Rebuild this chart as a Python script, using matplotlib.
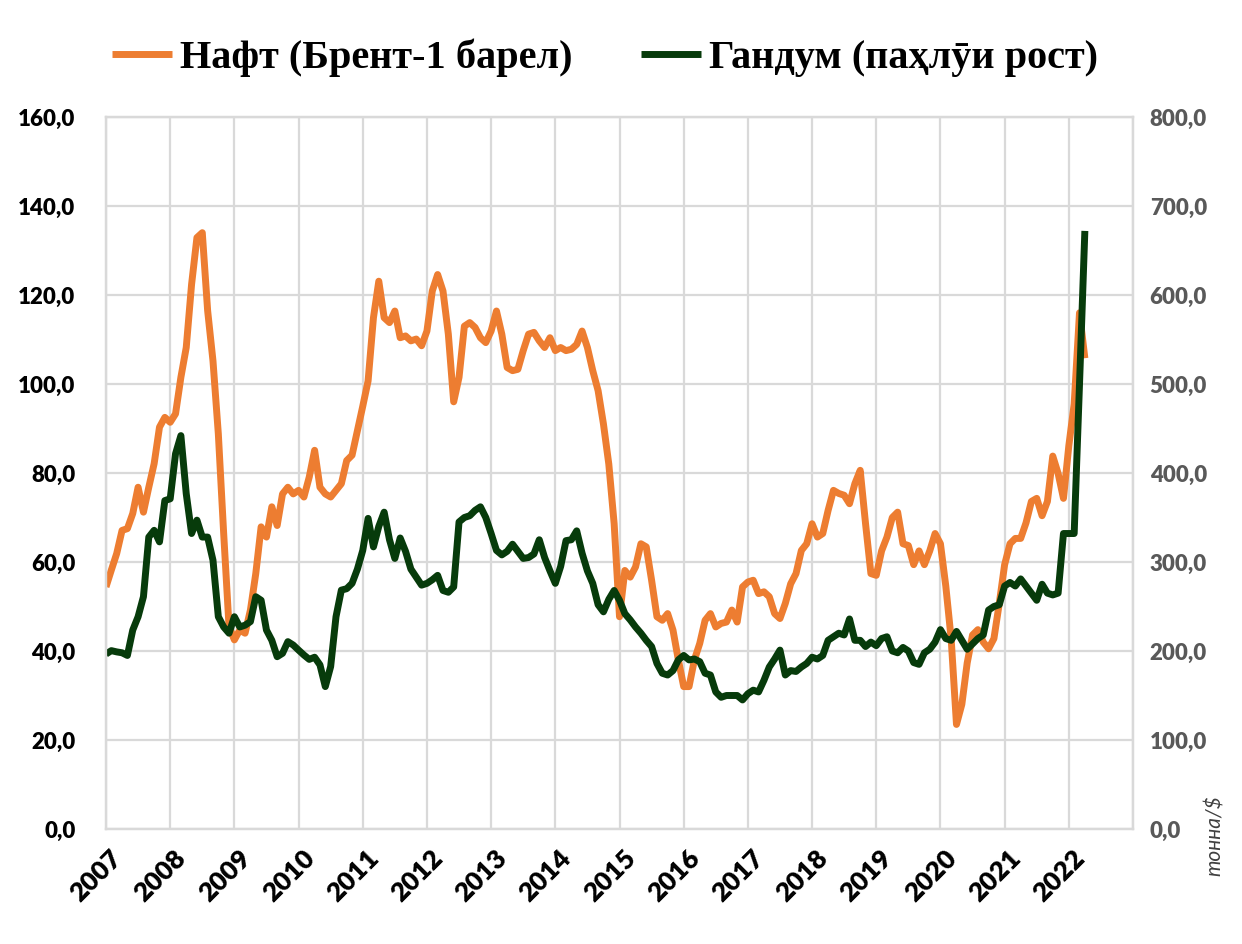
import matplotlib
matplotlib.use('Agg')
import matplotlib.pyplot as plt
import matplotlib.transforms as mtransforms
import numpy as np

# monthly values, Jan 2007 .. Apr 2022
years = list(range(2007, 2023))

oil_brent = [
    # 2007
    54.4, 58.2, 61.9, 67.1, 67.5, 70.9, 76.8, 71.2, 76.8, 82.1, 90.3, 92.5,
    # 2008
    91.4, 93.3, 101.5, 108.2, 122.4, 132.9, 134.0, 116.5, 105.2, 88.8, 66.4, 45.5,
    # 2009
    42.5, 44.7, 44.0, 49.2, 57.4, 67.9, 65.6, 72.4, 68.2, 75.3, 76.8, 75.3,
    # 2010
    76.1, 74.6, 79.1, 85.1, 76.8, 75.3, 74.6, 76.1, 77.6, 82.8, 84.0, 89.5,
    # 2011
    95.0, 100.7, 114.9, 123.1, 114.9, 113.8, 116.4, 110.4, 110.8, 109.7, 110.1, 108.6,
    # 2012
    111.9, 120.9, 124.6, 120.9, 111.2, 96.0, 101.5, 113.0, 113.8, 112.7, 110.4, 109.3,
    # 2013
    111.9, 116.4, 111.2, 103.7, 103.0, 103.3, 107.5, 111.2, 111.6, 109.7, 108.2, 110.4,
    # 2014
    107.5, 108.2, 107.5, 107.8, 108.9, 111.9, 108.2, 103.0, 98.5, 91.0, 82.0, 68.6,
    # 2015
    47.7, 58.1, 56.6, 58.9, 64.1, 63.4, 55.9, 47.7, 46.9, 48.4, 44.7, 38.0,
    # 2016
    32.0, 32.0, 38.0, 41.7, 46.9, 48.4, 45.4, 46.2, 46.5, 49.2, 46.5, 54.4,
    # 2017
    55.5, 55.9, 52.9, 53.3, 52.2, 48.4, 47.3, 50.7, 55.1, 57.4, 62.6, 64.1,
    # 2018
    68.6, 65.6, 66.4, 71.6, 76.1, 75.4, 75.0, 73.1, 77.6, 80.6, 68.6, 57.4,
    # 2019
    57.0, 62.5, 65.6, 70.0, 71.2, 64.1, 63.7, 59.4, 62.5, 59.4, 62.5, 66.4,
    # 2020
    64.1, 54.6, 42.8, 23.5, 28.0, 37.3, 43.6, 44.8, 42.0, 40.5, 42.8, 50.7,
    # 2021
    59.4, 64.1, 65.3, 65.3, 68.8, 73.6, 74.3, 70.4, 73.6, 83.8, 79.9, 74.3,
    # 2022
    86.1, 95.5, 116.0, 105.8,
]

wheat = [
    # 2007
    196.6, 200.4, 199.0, 198.0, 195.0, 223.5, 238.5, 261.0, 328.0, 335.6, 322.6, 369.0,
    # 2008
    371.0, 421.6, 442.0, 376.8, 332.0, 347.0, 328.0, 328.0, 302.0, 238.5, 227.0, 220.0,
    # 2009
    238.5, 227.0, 229.0, 233.0, 261.0, 257.0, 223.5, 212.0, 193.6, 197.4, 210.5, 206.7,
    # 2010
    201.0, 195.5, 190.6, 193.0, 184.4, 160.0, 182.5, 238.5, 268.4, 270.0, 276.0, 292.0,
    # 2011
    313.0, 349.0, 317.0, 340.0, 356.0, 325.0, 304.0, 327.0, 312.0, 292.0, 283.0, 274.0,
    # 2012
    276.0, 280.0, 285.0, 268.0, 266.0, 272.0, 345.0, 350.0, 352.0, 358.0, 362.0, 350.0,
    # 2013
    332.0, 313.0, 308.0, 312.0, 320.0, 312.0, 304.0, 305.0, 309.0, 325.0, 305.0, 290.0,
    # 2014
    276.0, 295.0, 324.0, 325.0, 335.0, 310.0, 290.0, 276.0, 252.0, 244.0, 258.0, 268.0,
    # 2015
    257.0, 242.0, 235.0, 227.0, 220.0, 212.0, 205.0, 186.0, 175.0, 173.0, 178.0, 190.0,
    # 2016
    195.0, 190.0, 191.0, 188.0, 175.0, 173.0, 154.0, 148.0, 150.0, 150.0, 150.0, 145.0,
    # 2017
    152.0, 156.0, 154.0, 167.0, 182.0, 191.0, 201.0, 173.0, 178.0, 177.0, 182.0, 186.0,
    # 2018
    193.0, 191.0, 195.0, 212.0, 216.0, 220.0, 218.0, 236.0, 212.0, 212.0, 205.0, 210.0,
    # 2019
    206.0, 214.0, 216.0, 200.0, 198.0, 204.0, 200.0, 187.0, 185.0, 198.0, 202.0, 210.0,
    # 2020
    224.0, 214.0, 212.0, 222.0, 212.0, 202.0, 208.0, 214.0, 218.0, 246.0, 250.0, 252.0,
    # 2021
    273.0, 277.0, 273.0, 281.0, 273.0, 265.0, 257.0, 275.0, 265.0, 263.0, 265.0, 332.0,
    # 2022
    332.0, 332.0, 500.0, 672.0,
]

oil_label = "Нафт (Брент-1 барел)"
wheat_label = "Гандум (паҳлӯи рост)"
unit_label = "тонна/$"

ORANGE = "#ED7D31"
GREEN = "#073B0B"
GRID = "#D9D9D9"


def main():
    plt.rcParams['font.family'] = ['Lato', 'DejaVu Sans']

    fig = plt.figure(figsize=(12.42, 9.44), dpi=100)
    ax = fig.add_axes([106 / 1242, 1 - 829 / 944, (1133 - 106) / 1242, (829 - 117) / 944])
    ax2 = ax.twinx()

    months = np.arange(len(oil_brent))
    l1, = ax.plot(months, oil_brent, color=ORANGE, lw=5.0, solid_capstyle='butt',
                  solid_joinstyle='round')
    months_w = np.arange(len(wheat))
    l2, = ax2.plot(months_w, wheat, color=GREEN, lw=5.0, solid_capstyle='butt',
                   solid_joinstyle='round')

    ax.set_xlim(0, 192)
    ax.set_ylim(0, 160)
    ax2.set_ylim(0, 800)
    ax.set_yticks(np.arange(0, 161, 20))
    ax2.set_yticks(np.arange(0, 801, 100))
    ax.set_yticklabels([f"{v:.1f}".replace('.', ',') for v in np.arange(0, 161, 20)])
    ax2.set_yticklabels([f"{v:.1f}".replace('.', ',') for v in np.arange(0, 801, 100)])

    ax.set_xticks([12 * i for i in range(len(years))])
    ax.set_xticks([192], minor=True)
    ax.set_xticklabels([str(y) for y in years])

    ax.grid(True, which='both', color=GRID, lw=1.6)
    ax.set_axisbelow(True)
    for a in (ax, ax2):
        for s in a.spines.values():
            s.set_color(GRID)
            s.set_linewidth(1.6)

    ax.tick_params(axis='y', length=0, pad=22, labelsize=16, labelcolor='black')
    ax2.tick_params(axis='y', length=0, pad=12, labelsize=16, labelcolor='#595959')
    ax.tick_params(axis='x', which='both', length=0, pad=18, labelsize=19)
    for t in ax.get_yticklabels() + ax2.get_yticklabels():
        t.set_fontweight('heavy')
    offset = mtransforms.ScaledTranslation(12 / 100, 0, fig.dpi_scale_trans)
    for t in ax.get_xticklabels():
        t.set_fontweight('heavy')
        t.set_rotation(45)
        t.set_ha('right')
        t.set_va('center')
        t.set_rotation_mode('anchor')
        t.set_transform(t.get_transform() + offset)

    fig.text(1215 / 1242, 1 - 836 / 944, unit_label, rotation=90, ha='center', va='center',
             fontsize=15, style='italic', color='#404040')

    fig.legend([l1, l2], [oil_label, wheat_label], loc='center',
               bbox_to_anchor=(605 / 1242, 1 - 58 / 944), ncol=2, frameon=False,
               handlelength=1.5, handletextpad=0.2, columnspacing=1.7,
               prop={'family': ['Liberation Serif', 'DejaVu Serif'], 'weight': 'bold', 'size': 29})

    fig.savefig("out.png", dpi=100)


if __name__ == "__main__":
    main()
